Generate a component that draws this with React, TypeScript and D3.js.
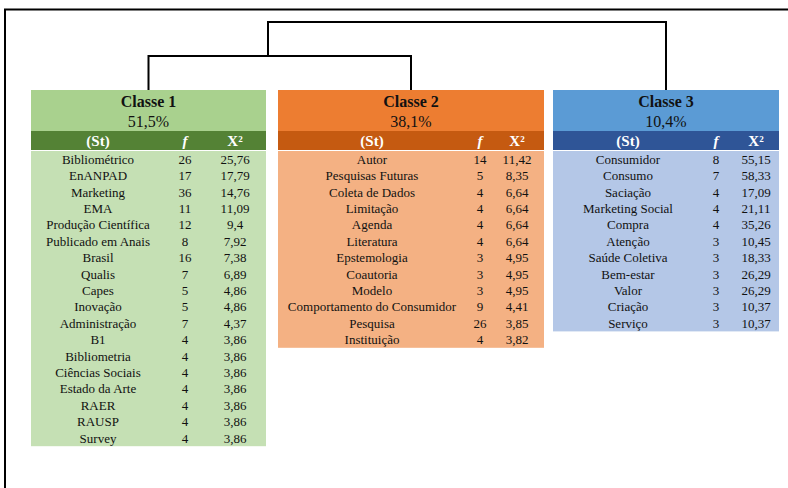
import React, { useEffect, useRef } from 'react';
import * as d3 from 'd3';

// class labels and shares
const classNames = ['Classe 1', 'Classe 2', 'Classe 3'];
const classShares = ['51,5%', '38,1%', '10,4%'];

// Classe 1
const terms1 = ['Bibliométrico', 'EnANPAD', 'Marketing', 'EMA', 'Produção Científica', 'Publicado em Anais', 'Brasil', 'Qualis', 'Capes', 'Inovação', 'Administração', 'B1', 'Bibliometria', 'Ciências Sociais', 'Estado da Arte', 'RAER', 'RAUSP', 'Survey'];
const freq1 = ['26', '17', '36', '11', '12', '8', '16', '7', '5', '5', '7', '4', '4', '4', '4', '4', '4', '4'];
const chi1 = ['25,76', '17,79', '14,76', '11,09', '9,4', '7,92', '7,38', '6,89', '4,86', '4,86', '4,37', '3,86', '3,86', '3,86', '3,86', '3,86', '3,86', '3,86'];

// Classe 2
const terms2 = ['Autor', 'Pesquisas Futuras', 'Coleta de Dados', 'Limitação', 'Agenda', 'Literatura', 'Epstemologia', 'Coautoria', 'Modelo', 'Comportamento do Consumidor', 'Pesquisa', 'Instituição'];
const freq2 = ['14', '5', '4', '4', '4', '4', '3', '3', '3', '9', '26', '4'];
const chi2 = ['11,42', '8,35', '6,64', '6,64', '6,64', '6,64', '4,95', '4,95', '4,95', '4,41', '3,85', '3,82'];

// Classe 3
const terms3 = ['Consumidor', 'Consumo', 'Saciação', 'Marketing Social', 'Compra', 'Atenção', 'Saúde Coletiva', 'Bem-estar', 'Valor', 'Criação', 'Serviço'];
const freq3 = ['8', '7', '4', '4', '4', '3', '3', '3', '3', '3', '3'];
const chi3 = ['55,15', '58,33', '17,09', '21,11', '35,26', '10,45', '18,33', '26,29', '26,29', '10,37', '10,37'];

// words flagged by the spell checker in the original
const flagged = ['Bibliométrico', 'EnANPAD', 'Qualis', 'Bibliometria', 'Survey', 'Epstemologia', 'Saciação'];

const headers = ['(St)', 'f', 'X²'];

const App = () => {
  const ref = useRef<SVGSVGElement>(null);

  useEffect(() => {
    const svg = d3.select(ref.current);
    svg.selectAll('*').remove();

    const font = '"Liberation Serif", "Times New Roman", serif';

    const boxes = [
      { x0: 31, x1: 266, cols: [98, 185, 235], head: '#a9d18e', band: '#548235', body: '#c5e0b4', terms: terms1, f: freq1, chi: chi1 },
      { x0: 278, x1: 544, cols: [372, 480, 517], head: '#ed7d31', band: '#c55a11', body: '#f4b183', terms: terms2, f: freq2, chi: chi2 },
      { x0: 553, x1: 779, cols: [628, 716, 756], head: '#5b9bd5', band: '#2f5597', body: '#b4c7e7', terms: terms3, f: freq3, chi: chi3 },
    ];

    const top = 90;
    const bandTop = 131;
    const rowTop = 151;
    const pitch = 16.4;

    // frame
    svg.append('path')
      .attr('d', 'M5,488 V9.5 H788')
      .attr('fill', 'none')
      .attr('stroke', '#000')
      .attr('stroke-width', 2);

    // dendrogram
    const cx = boxes.map(b => (b.x0 + b.x1) / 2);
    const join12 = 268;
    const links = [
      `M${cx[0]},${top} V56 H${cx[1]} V${top}`,
      `M${join12},56 V22 H${cx[2]} V${top}`,
    ];
    svg.selectAll('.link')
      .data(links)
      .enter()
      .append('path')
        .attr('class', 'link')
        .attr('d', d => d)
        .attr('fill', 'none')
        .attr('stroke', '#000')
        .attr('stroke-width', 2);

    boxes.forEach((b, i) => {
      const g = svg.append('g');
      const w = b.x1 - b.x0;
      const n = b.terms.length;

      const y = d3.scaleBand<number>()
        .domain(d3.range(n))
        .range([rowTop, rowTop + n * pitch]);

      // title block
      g.append('rect').attr('x', b.x0).attr('y', top).attr('width', w).attr('height', bandTop - top).attr('fill', b.head);
      g.append('rect').attr('x', b.x0).attr('y', bandTop).attr('width', w).attr('height', rowTop - bandTop - 1).attr('fill', b.band);
      g.append('rect').attr('x', b.x0).attr('y', rowTop).attr('width', w).attr('height', n * pitch).attr('fill', b.body);

      g.append('text')
        .attr('x', cx[i]).attr('y', 107)
        .attr('text-anchor', 'middle')
        .style('font-family', font).style('font-size', '16px').style('font-weight', 'bold')
        .attr('fill', '#111')
        .text(classNames[i]);
      g.append('text')
        .attr('x', cx[i]).attr('y', 127)
        .attr('text-anchor', 'middle')
        .style('font-family', font).style('font-size', '16px')
        .attr('fill', '#111')
        .text(classShares[i]);

      // column headers
      headers.forEach((h, j) => {
        g.append('text')
          .attr('x', b.cols[j]).attr('y', 146)
          .attr('text-anchor', 'middle')
          .style('font-family', font).style('font-size', '15px')
          .style('font-weight', 'bold')
          .style('font-style', j === 1 ? 'italic' : 'normal')
          .attr('fill', '#fff')
          .text(h);
      });

      // rows
      const cols = [b.terms, b.f, b.chi];
      cols.forEach((vals, j) => {
        g.selectAll(`.c${j}`)
          .data(vals)
          .enter()
          .append('text')
            .attr('x', b.cols[j])
            .attr('y', (d, k) => y(k)! + y.bandwidth() / 2 + 4.5)
            .attr('text-anchor', 'middle')
            .style('font-family', font).style('font-size', '13px')
            .attr('fill', '#111')
            .text(d => d);
      });

      // red spell-check squiggles
      g.selectAll('.c0').each(function () {
        const t = this as SVGTextElement;
        const word = t.textContent || '';
        if (!flagged.includes(word)) return;
        const len = t.getComputedTextLength();
        const x = +t.getAttribute('x')! - len / 2;
        const yy = +t.getAttribute('y')! + 2.5;
        g.append('line')
          .attr('x1', x).attr('x2', x + len)
          .attr('y1', yy).attr('y2', yy)
          .attr('stroke', '#e03030')
          .attr('stroke-width', 1)
          .attr('stroke-dasharray', '1.5,1');
      });
    });
  }, []);

  return (
    <svg ref={ref} width={788} height={488} style={{ position: 'absolute', left: 0, top: 0, background: '#fff' }} />
  );
};

export default App;
